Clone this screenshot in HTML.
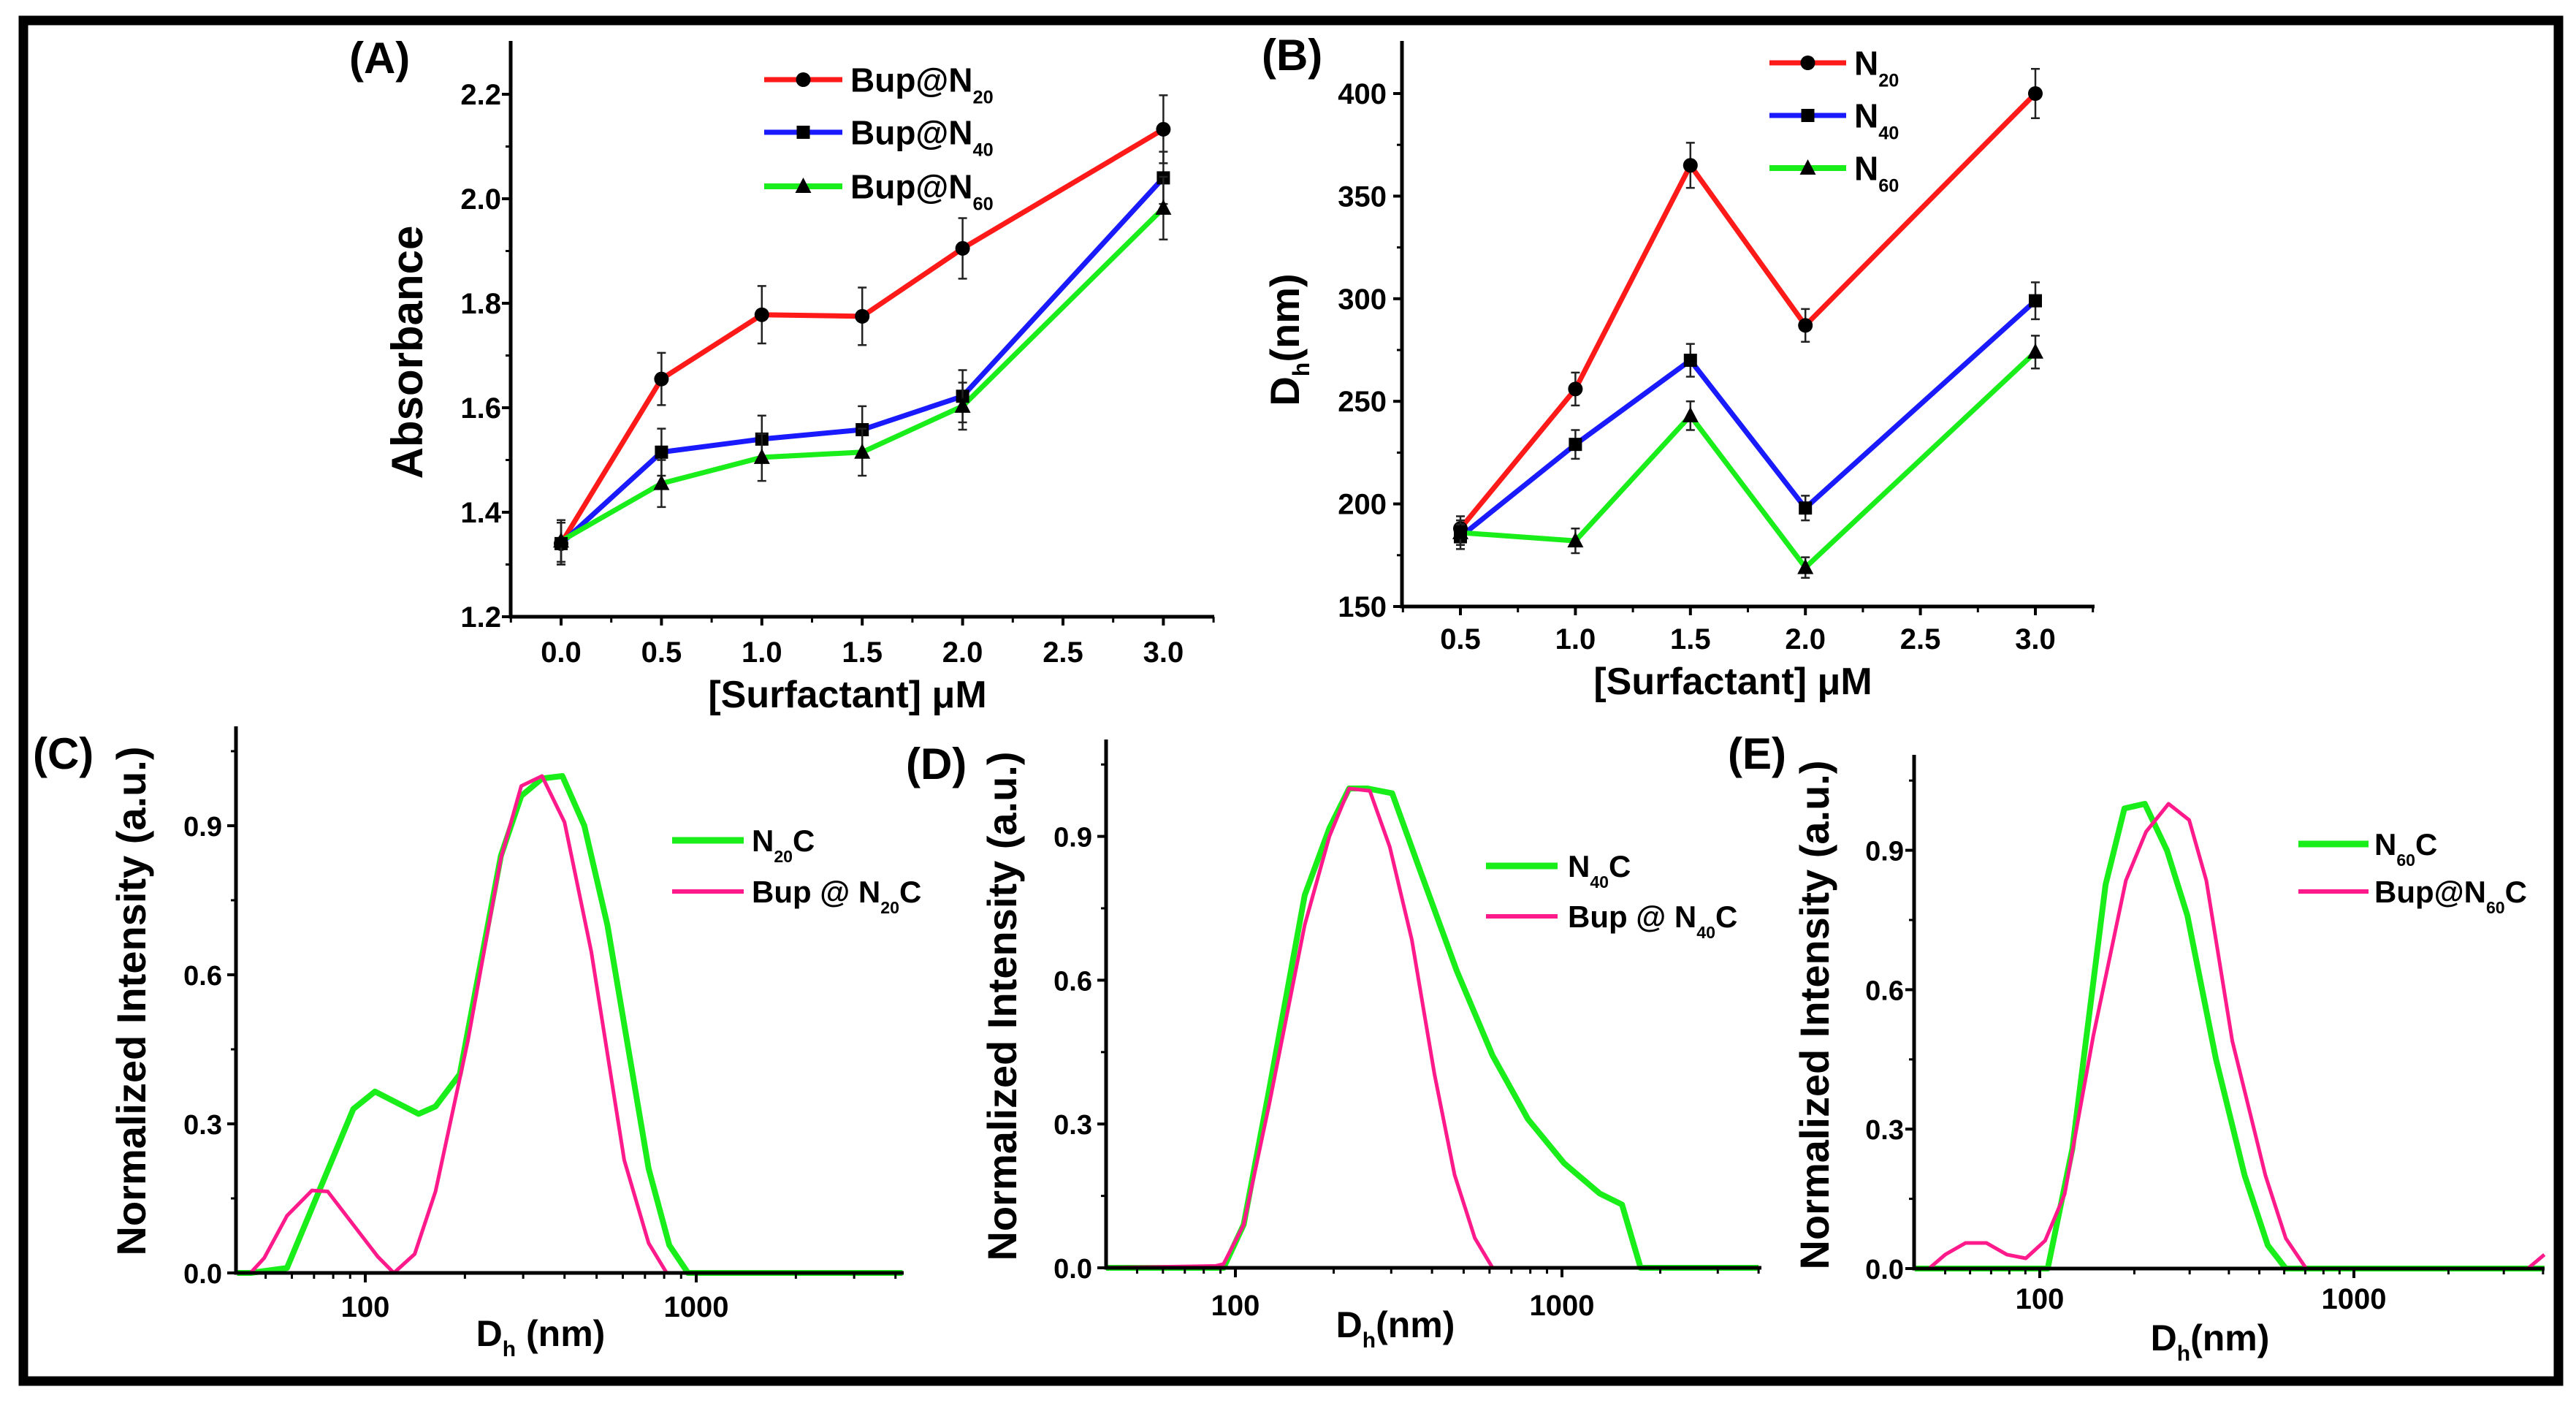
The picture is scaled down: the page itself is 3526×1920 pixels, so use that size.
<!DOCTYPE html>
<html><head><meta charset="utf-8"><style>
html,body{margin:0;padding:0;background:#fff;}
svg{display:block;}
text{font-family:"Liberation Sans Narrow","Liberation Sans",sans-serif;font-weight:bold;fill:#000;}
.wide{font-family:"Liberation Sans","DejaVu Sans",sans-serif;font-weight:bold;}
</style></head><body>
<svg id="fig" width="3526" height="1920" viewBox="0 0 3526 1920" xmlns="http://www.w3.org/2000/svg">
<rect x="32" y="28" width="3470" height="1862" fill="#fff" stroke="#000" stroke-width="13"/>
<text x="478" y="100" font-size="60">(A)</text>
<text x="1727" y="96" font-size="60">(B)</text>
<text x="45" y="1052" font-size="60">(C)</text>
<text x="1240" y="1066" font-size="60">(D)</text>
<text x="2365" y="1052" font-size="60">(E)</text>
<text class="wide" transform="translate(578,482) rotate(-90)" text-anchor="middle" font-size="60">Absorbance</text>
<text x="1160" y="968" text-anchor="middle" font-size="52">[Surfactant] μM</text>
<text class="wide" transform="translate(1778,465) rotate(-90)" text-anchor="middle" font-size="56">D<tspan font-size="32" dy="14">h</tspan><tspan dy="-14">(nm)</tspan></text>
<text x="2372" y="950" text-anchor="middle" font-size="52">[Surfactant] μM</text>
<text class="wide" transform="translate(199,1370) rotate(-90)" text-anchor="middle" font-size="56">Normalized Intensity (a.u.)</text>
<text x="740" y="1842" text-anchor="middle" font-size="50">D<tspan font-size="30" dy="14">h</tspan><tspan dy="-14"> (nm)</tspan></text>
<text class="wide" transform="translate(1391,1377) rotate(-90)" text-anchor="middle" font-size="56">Normalized Intensity (a.u.)</text>
<text x="1910" y="1830" text-anchor="middle" font-size="50">D<tspan font-size="30" dy="14">h</tspan><tspan dy="-14">(nm)</tspan></text>
<text class="wide" transform="translate(2503,1389) rotate(-90)" text-anchor="middle" font-size="56">Normalized Intensity (a.u.)</text>
<text x="3025" y="1848" text-anchor="middle" font-size="50">D<tspan font-size="30" dy="14">h</tspan><tspan dy="-14">(nm)</tspan></text>
<g id="marks"></g>
</svg>
<script>
const aX = [0, 0.5, 1.0, 1.5, 2.0, 3.0];
const aRed = [1.34, 1.655, 1.778, 1.775, 1.905, 2.133];
const aRedErr = [0.04, 0.05, 0.055, 0.055, 0.058, 0.065];
const aBlue = [1.34, 1.515, 1.54, 1.558, 1.622, 2.04];
const aBlueErr = [0.04, 0.045, 0.045, 0.045, 0.05, 0.05];
const aGreen = [1.345, 1.455, 1.505, 1.515, 1.603, 1.982];
const aGreenErr = [0.04, 0.045, 0.045, 0.045, 0.045, 0.06];
const aYTicks = ['1.2','1.4','1.6','1.8','2.0','2.2'];
const aXTicks = ['0.0','0.5','1.0','1.5','2.0','2.5','3.0'];
const bX = [0.5, 1.0, 1.5, 2.0, 3.0];
const bRed = [188, 256, 365, 287, 400];
const bRedErr = [6, 8, 11, 8, 12];
const bBlue = [184, 229, 270, 198, 299];
const bBlueErr = [6, 7, 8, 6, 9];
const bGreen = [186, 182, 243, 169, 274];
const bGreenErr = [6, 6, 7, 5, 8];
const bYTicks = ['150','200','250','300','350','400'];
const bXTicks = ['0.5','1.0','1.5','2.0','2.5','3.0'];
const cGreenD = [41, 45, 58, 92, 107, 145, 163, 193, 257, 296, 342, 394, 459, 539, 718, 829, 944, 4200];
const cGreenI = [0, 0, 0.01, 0.33, 0.365, 0.32, 0.335, 0.40, 0.84, 0.96, 0.995, 1.0, 0.9, 0.70, 0.21, 0.056, 0, 0];
const cPinkD = [41, 45, 49.5, 58, 69, 77, 109, 122, 141, 163, 204, 257, 296, 342, 400, 482, 606, 718, 814, 4200];
const cPinkI = [0, 0, 0.03, 0.115, 0.166, 0.164, 0.033, 0, 0.038, 0.164, 0.466, 0.835, 0.98, 1.0, 0.907, 0.646, 0.227, 0.06, 0, 0];
const dGreenD = [40, 92, 106, 127, 163, 194, 223, 254, 302, 370, 476, 613, 787, 1016, 1305, 1527, 1741, 4000];
const dGreenI = [0, 0, 0.09, 0.373, 0.777, 0.917, 1.0, 1.0, 0.99, 0.824, 0.62, 0.443, 0.31, 0.218, 0.155, 0.132, 0, 0];
const dPinkD = [40, 87, 92, 106, 127, 163, 194, 223, 258, 297, 347, 407, 469, 541, 613, 4000];
const dPinkI = [0, 0.004, 0.008, 0.09, 0.342, 0.715, 0.9, 1.0, 0.995, 0.878, 0.684, 0.404, 0.194, 0.062, 0, 0];
const eGreenD = [40, 106, 127, 162, 186, 216, 254, 295, 364, 449, 532, 607, 4040];
const eGreenI = [0, 0, 0.258, 0.826, 0.99, 1.0, 0.9, 0.76, 0.45, 0.2, 0.05, 0, 0];
const ePinkD = [40, 44.4, 50, 58, 67.7, 78.6, 90.3, 104, 120, 148, 188, 218, 257, 299, 339, 410, 523, 607, 705, 3577, 4040];
const ePinkI = [0, 0, 0.03, 0.055, 0.055, 0.03, 0.022, 0.06, 0.16, 0.5, 0.835, 0.94, 1.0, 0.965, 0.835, 0.49, 0.2, 0.065, 0, 0, 0.03];
const logYTicks = ['0.0','0.3','0.6','0.9'];
const logXTicks = ['100','1000'];

const NS = 'http://www.w3.org/2000/svg';
const G = document.getElementById('marks');
function mk(tag, attrs) {
  const e = document.createElementNS(NS, tag);
  for (const k in attrs) e.setAttribute(k, attrs[k]);
  G.appendChild(e);
  return e;
}
const RED = '#ff1a1a', BLUE = '#1a1aff', GREEN = '#1aee1a', PINK = '#ff1a8c';

function linearPanel(p) {
  const sx = v => p.x0 + (v - p.xv0) * p.xs;
  const sy = v => p.y0 - (v - p.yv0) * p.ys;
  let el = mk('path', {d: `M${p.left},${p.top} L${p.left},${p.bottom} L${p.right},${p.bottom}`, fill: 'none', stroke: '#000', 'stroke-width': 5});
  
  
  p.yTicks.forEach((lab, i) => {
    const v = parseFloat(lab), y = sy(v);
    el = mk('line', {x1: p.left - 12, y1: y, x2: p.left, y2: y, stroke: '#000', 'stroke-width': 4});
    
    
    el = mk('text', {x: p.yLabRight, y: y + 14, 'text-anchor': 'end', 'font-size': 40});
    el.textContent = lab;
    
    
    if (i < p.yTicks.length - 1) {
      const vm = (v + parseFloat(p.yTicks[i + 1])) / 2;
      el = mk('line', {x1: p.left - 7, y1: sy(vm), x2: p.left, y2: sy(vm), stroke: '#000', 'stroke-width': 3});
      
      
    }
  });
  p.xTicks.forEach((lab, i) => {
    const v = parseFloat(lab), x = sx(v);
    el = mk('line', {x1: x, y1: p.bottom, x2: x, y2: p.bottom + 12, stroke: '#000', 'stroke-width': 4});
    
    
    el = mk('text', {x: x, y: p.xLabBase, 'text-anchor': 'middle', 'font-size': 40});
    el.textContent = lab;
    
    
    const step = p.xStep / 2;
    el = mk('line', {x1: sx(v - step), y1: p.bottom, x2: sx(v - step), y2: p.bottom + 8, stroke: '#000', 'stroke-width': 3});
    
    
    if (i === p.xTicks.length - 1) {
      el = mk('line', {x1: sx(v + step), y1: p.bottom, x2: sx(v + step), y2: p.bottom + 8, stroke: '#000', 'stroke-width': 3});
      
      
    }
  });
  p.series.forEach(s => {
    const pts = p.xs_data.map((v, i) => `${sx(v)},${sy(s.y[i])}`).join(' ');
    el = mk('polyline', {points: pts, fill: 'none', stroke: s.color, 'stroke-width': 7, 'stroke-linejoin': 'round'});
    
    
  });
  p.series.forEach(s => {
    p.xs_data.forEach((v, i) => {
      const x = sx(v), y1 = sy(s.y[i] + s.err[i]), y2 = sy(s.y[i] - s.err[i]);
      el = mk('path', {d: `M${x},${y1} L${x},${y2} M${x - 6},${y1} L${x + 6},${y1} M${x - 6},${y2} L${x + 6},${y2}`, stroke: '#222', 'stroke-width': 2.5, fill: 'none'});
      
      
      el = marker(s.shape, x, sy(s.y[i]));
      
      
    });
  });
}
function marker(shape, x, y) {
  if (shape === 'circle') return mk('circle', {cx: x, cy: y, r: 10, fill: '#000'});
  if (shape === 'square') return mk('rect', {x: x - 9, y: y - 9, width: 18, height: 18, fill: '#000'});
  return mk('polygon', {points: `${x},${y - 12} ${x - 11},${y + 9} ${x + 11},${y + 9}`, fill: '#000'});
}

linearPanel({id: 'panel-a', left: 699, right: 1662, top: 56, bottom: 844,
  x0: 768, xv0: 0, xs: 274.8, y0: 844, yv0: 1.2, ys: 715, xStep: 0.5,
  yTicks: aYTicks, xTicks: aXTicks, yLabRight: 686, xLabBase: 906, xs_data: aX,
  series: [
    {name: 'bup-n20', y: aRed, err: aRedErr, color: RED, shape: 'circle'},
    {name: 'bup-n40', y: aBlue, err: aBlueErr, color: BLUE, shape: 'square'},
    {name: 'bup-n60', y: aGreen, err: aGreenErr, color: GREEN, shape: 'triangle'}]});

linearPanel({id: 'panel-b', left: 1919, right: 2867, top: 56, bottom: 830,
  x0: 1999, xv0: 0.5, xs: 314.8, y0: 830, yv0: 150, ys: 2.808, xStep: 0.5,
  yTicks: bYTicks, xTicks: bXTicks, yLabRight: 1898, xLabBase: 888, xs_data: bX,
  series: [
    {name: 'n20', y: bRed, err: bRedErr, color: RED, shape: 'circle'},
    {name: 'n40', y: bBlue, err: bBlueErr, color: BLUE, shape: 'square'},
    {name: 'n60', y: bGreen, err: bGreenErr, color: GREEN, shape: 'triangle'}]});

function logPanel(p) {
  const sx = d => p.x100 + (Math.log10(d) - 2) * p.dec;
  const sy = v => p.y0 - v * p.ys;
  let el;
  p.series.forEach(s => {
    const pts = s.d.map((d, i) => `${Math.min(Math.max(sx(d), p.left), p.right)},${sy(s.v[i])}`).join(' ');
    el = mk('polyline', {points: pts, fill: 'none', stroke: s.color, 'stroke-width': s.w, 'stroke-linejoin': 'round'});
    
    
  });
  el = mk('path', {d: `M${p.left},${p.top} L${p.left},${p.y0} L${p.right},${p.y0}`, fill: 'none', stroke: '#000', 'stroke-width': 5});
  
  
  logYTicks.forEach((lab, i) => {
    const v = parseFloat(lab), y = sy(v);
    el = mk('line', {x1: p.left - 12, y1: y, x2: p.left, y2: y, stroke: '#000', 'stroke-width': 4});
    
    
    el = mk('text', {x: p.yLabRight, y: y + 14, 'text-anchor': 'end', 'font-size': 38});
    el.textContent = lab;
    
    
    const ym = sy(v + 0.15);
    el = mk('line', {x1: p.left - 7, y1: ym, x2: p.left, y2: ym, stroke: '#000', 'stroke-width': 3});
    
    
  });
  [50,60,70,80,90,200,300,400,500,600,700,800,900,2000,3000,4000].forEach(d => {
    const x = sx(d);
    if (x < p.left || x > p.right) return;
    el = mk('line', {x1: x, y1: p.y0, x2: x, y2: p.y0 + 8, stroke: '#000', 'stroke-width': 3});
    
    
  });
  logXTicks.forEach(lab => {
    const x = sx(parseFloat(lab));
    el = mk('line', {x1: x, y1: p.y0, x2: x, y2: p.y0 + 13, stroke: '#000', 'stroke-width': 4});
    
    
    el = mk('text', {x: x, y: p.xLabBase, 'text-anchor': 'middle', 'font-size': 40});
    el.textContent = lab;
    
    
  });
}
logPanel({id: 'panel-c', left: 323, right: 1237, top: 994, y0: 1742, ys: 680, x100: 500, dec: 453, yLabRight: 304, xLabBase: 1802,
  series: [{name: 'n20c', d: cGreenD, v: cGreenI, color: GREEN, w: 8}, {name: 'bup-n20c', d: cPinkD, v: cPinkI, color: PINK, w: 5}]});
logPanel({id: 'panel-d', left: 1514, right: 2411, top: 1012, y0: 1735, ys: 656, x100: 1691, dec: 447, yLabRight: 1495, xLabBase: 1800,
  series: [{name: 'n40c', d: dGreenD, v: dGreenI, color: GREEN, w: 8}, {name: 'bup-n40c', d: dPinkD, v: dPinkI, color: PINK, w: 5}]});
logPanel({id: 'panel-e', left: 2620, right: 3483, top: 1033, y0: 1736, ys: 636, x100: 2792, dec: 430, yLabRight: 2606, xLabBase: 1791,
  series: [{name: 'n60c', d: eGreenD, v: eGreenI, color: GREEN, w: 8}, {name: 'bup-n60c', d: ePinkD, v: ePinkI, color: PINK, w: 5}]});

function legendEntry(name, x1, x2, y, color, w, shape, textX, main, sub, tail, fs) {
  let el = mk('line', {x1: x1, y1: y, x2: x2, y2: y, stroke: color, 'stroke-width': w});
  
  
  if (shape) {
    el = marker(shape, (x1 + x2) / 2, y);
    
    
  }
  el = mk('text', {x: textX, y: y + fs * 0.36, 'font-size': fs});
  
  
  el.appendChild(document.createTextNode(main));
  const ts = document.createElementNS(NS, 'tspan');
  ts.setAttribute('font-size', fs * 0.55);
  ts.setAttribute('dy', fs * 0.35);
  ts.textContent = sub;
  el.appendChild(ts);
  if (tail) {
    const t2 = document.createElementNS(NS, 'tspan');
    t2.setAttribute('dy', -fs * 0.35);
    t2.textContent = tail;
    el.appendChild(t2);
  }
}
legendEntry('legend-a-bup-n20', 1046, 1153, 109, RED, 7, 'circle', 1164, 'Bup@N', '20', '', 46);
legendEntry('legend-a-bup-n40', 1046, 1153, 181, BLUE, 7, 'square', 1164, 'Bup@N', '40', '', 46);
legendEntry('legend-a-bup-n60', 1046, 1153, 255, GREEN, 8, 'triangle', 1164, 'Bup@N', '60', '', 46);
legendEntry('legend-b-n20', 2422, 2527, 86, RED, 7, 'circle', 2538, 'N', '20', '', 46);
legendEntry('legend-b-n40', 2422, 2527, 158, BLUE, 7, 'square', 2538, 'N', '40', '', 46);
legendEntry('legend-b-n60', 2422, 2527, 230, GREEN, 8, 'triangle', 2538, 'N', '60', '', 46);
legendEntry('legend-c-n20c', 920, 1018, 1150, GREEN, 9, null, 1029, 'N', '20', 'C', 42);
legendEntry('legend-c-bup-n20c', 920, 1018, 1220, PINK, 6, null, 1029, 'Bup @ N', '20', 'C', 42);
legendEntry('legend-d-n40c', 2034, 2132, 1185, GREEN, 9, null, 2146, 'N', '40', 'C', 42);
legendEntry('legend-d-bup-n40c', 2034, 2132, 1254, PINK, 6, null, 2146, 'Bup @ N', '40', 'C', 42);
legendEntry('legend-e-n60c', 3146, 3242, 1155, GREEN, 9, null, 3250, 'N', '60', 'C', 42);
legendEntry('legend-e-bup-n60c', 3146, 3242, 1220, PINK, 6, null, 3250, 'Bup@N', '60', 'C', 42);
</script>
</body></html>
